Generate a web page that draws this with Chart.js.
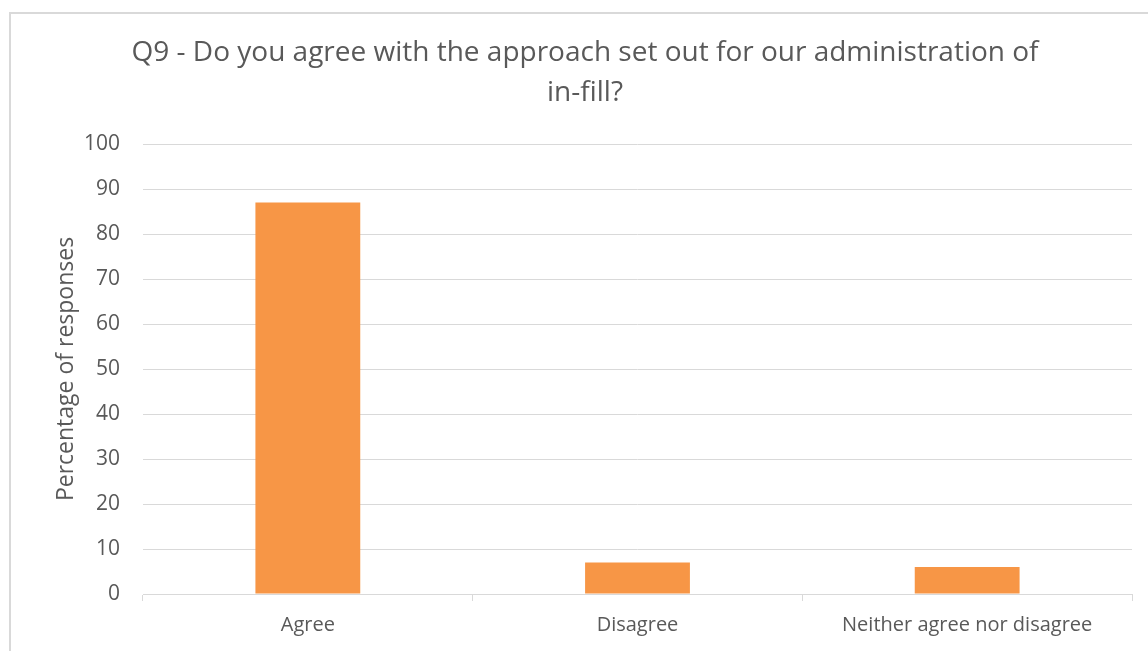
<!DOCTYPE html>
<html>
<head>
<meta charset="utf-8">
<script src="https://cdn.jsdelivr.net/npm/chart.js@4.4.1/dist/chart.umd.min.js"></script>
<style>
  html, body { margin: 0; padding: 0; background: #fff; overflow: hidden; }
  #frame {
    position: absolute; left: 9px; top: 12px; width: 1200px; height: 700px;
    border-left: 2px solid #d9d9d9; border-top: 2px solid #d9d9d9;
  }
  #wrap { position: absolute; left: 0; top: 0; width: 1148px; height: 651px; }
</style>
</head>
<body>
<div id="frame"></div>
<div id="wrap"><canvas id="q9Chart"></canvas></div>
<script>
// Q9 responses
const categories = ["Agree", "Disagree", "Neither agree nor disagree"];
const percentages = [87, 7, 6];
const yTicks = [0, 10, 20, 30, 40, 50, 60, 70, 80, 90, 100];

const textColor = "#595959";
const lineColor = "#d9d9d9";
const fontFamily = "'Open Sans', 'Noto Sans', sans-serif";

const ctx = document.getElementById("q9Chart").getContext("2d");

const q9Chart = new Chart(ctx, {
    type: "bar",
    data: {
        labels: categories,
        datasets: [{
            label: "Percentage of responses",
            data: percentages,
            backgroundColor: "#F79646",
            borderWidth: 0,
            barPercentage: 1,
            categoryPercentage: 0.318
        }]
    },
    options: {
        responsive: true,
        maintainAspectRatio: false,
        animation: false,
        // left padding pushes the title's centre to the right like the original
        layout: { padding: { left: 38, right: 16, top: 0, bottom: 0 } },
        plugins: {
            legend: { display: false },
            tooltip: { enabled: false },
            title: {
                display: true,
                text: ["Q9 - Do you agree with the approach set out for our administration of", "in-fill?"],
                color: textColor,
                font: { family: fontFamily, size: 28, weight: "normal", lineHeight: "40px" },
                padding: { top: 33, bottom: 31 }
            }
        },
        scales: {
            x: {
                grid: {
                    offset: true,
                    drawOnChartArea: false,
                    drawTicks: true,
                    tickLength: 7,
                    color: lineColor
                },
                border: { display: true, color: lineColor },
                ticks: {
                    color: textColor,
                    font: { family: fontFamily, size: 20 },
                    padding: 12,
                    maxRotation: 0
                },
                afterFit: scale => { scale.height = 57; }
            },
            y: {
                min: 0,
                max: 100,
                afterBuildTicks: scale => { scale.ticks = yTicks.map(v => ({ value: v })); },
                grid: { color: lineColor, drawTicks: false },
                border: { display: false },
                ticks: {
                    color: textColor,
                    font: { family: fontFamily, size: 21 },
                    padding: 23
                },
                title: {
                    display: true,
                    text: "Percentage of responses",
                    color: textColor,
                    font: { family: fontFamily, size: 23 },
                    padding: { top: 15, bottom: 0 }
                },
                afterFit: scale => { scale.width = 105; }
            }
        }
    }
});
</script>
</body>
</html>
